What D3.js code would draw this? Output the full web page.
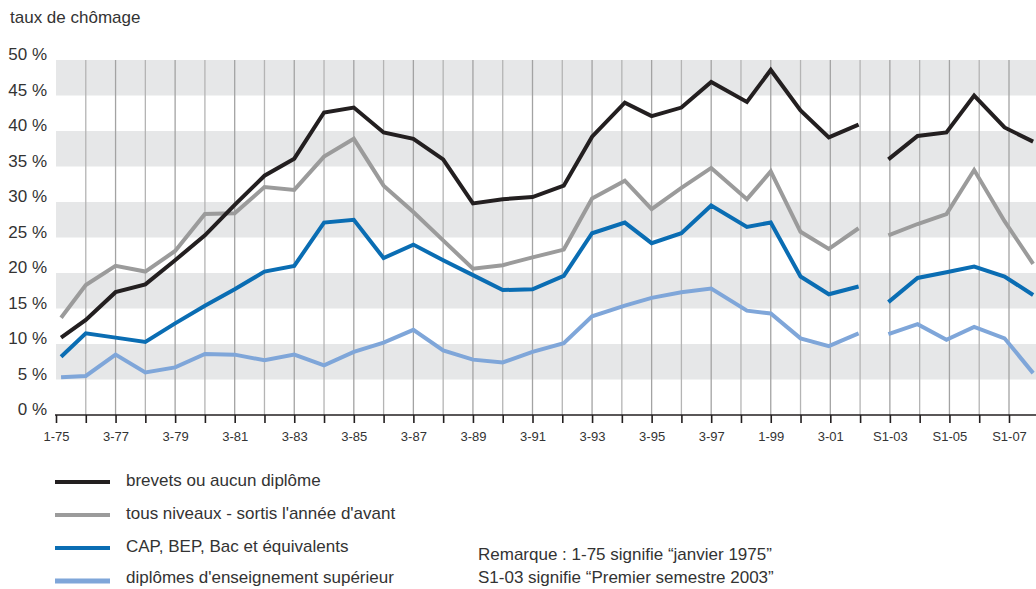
<!DOCTYPE html>
<html><head><meta charset="utf-8">
<script src="https://cdn.jsdelivr.net/npm/d3@7/dist/d3.min.js"></script>
<style>
body{margin:0;background:#fff}
text{font-family:'Liberation Sans Narrow','Arial Narrow','Liberation Sans',sans-serif;fill:#333}
</style>
</head><body>
<svg id="chart" width="1036" height="589"></svg>
<script>
// survey dates (decimal years); null-gap between 2002 and S1-03 handled by null values
const surveyYears = [1975.17,1976,1977,1978,1979,1980,1981,1982,1983,1984,1985,1986,1987,1988,1989,1990,1991,1992.05,1993,1994.1,1995,1996,1997,1998.2,1999,2000,2000.95,2001.95,2002.45,2002.95,2003.93,2004.9,2005.83,2006.85,2007.81];
const brevets   = [10.9,13.4,17.3,18.4,21.8,25.3,29.6,33.7,36.1,42.6,43.3,39.8,38.9,36.0,29.8,30.4,30.7,32.3,39.2,44.0,42.1,43.3,46.9,44.1,48.6,42.9,39.1,40.9,null,36.0,39.3,39.8,45.0,40.5,38.5];
const tousNiveaux = [13.7,18.3,21.0,20.2,23.1,28.3,28.4,32.1,31.7,36.4,38.9,32.3,28.6,24.6,20.6,21.1,22.2,23.3,30.5,33.0,29.0,32.0,34.8,30.4,34.3,25.8,23.4,26.3,null,25.3,26.9,28.3,34.5,27.3,21.3];
const capBep    = [8.2,11.5,10.9,10.3,12.9,15.4,17.7,20.2,21.0,27.1,27.5,22.1,24.0,21.8,19.7,17.6,17.7,19.6,25.6,27.1,24.2,25.6,29.5,26.5,27.1,19.5,17.0,18.1,null,15.9,19.3,20.1,20.9,19.5,16.9];
const superieur = [5.3,5.5,8.5,6.0,6.7,8.6,8.5,7.7,8.5,7.0,8.9,10.2,12.0,9.1,7.8,7.4,8.9,10.1,13.9,15.4,16.5,17.3,17.8,14.7,14.3,10.8,9.7,11.5,null,11.4,12.8,10.6,12.4,10.8,5.9];

const seriesNames = ["brevets ou aucun diplôme","tous niveaux - sortis l'année d'avant","CAP, BEP, Bac et équivalents","diplômes d'enseignement supérieur"];
const seriesColors = ["#231f20","#9b9b9b","#0a6db3","#7fa6d9"];
const yTicks = [0,5,10,15,20,25,30,35,40,45,50];
const xTickYears = d3.range(1975, 2008);
const xLabels = ["1-75","3-77","3-79","3-81","3-83","3-85","3-87","3-89","3-91","3-93","3-95","3-97","1-99","3-01","S1-03","S1-05","S1-07"];
const bandStarts = [5,15,25,35,45];

const svg = d3.select("#chart");
const x = d3.scaleLinear().domain([1975, 2007]).range([56, 1009]);
const y = d3.scaleLinear().domain([0, 50]).range([415, 60]);
const rightEdge = 1036;

// title
svg.append("text").attr("x", 10).attr("y", 23).style("font-size","17px").text("taux de chômage");

// grey bands
svg.append("g").selectAll("rect").data(bandStarts).join("rect")
  .attr("x", x(1975)).attr("width", rightEdge - x(1975))
  .attr("y", d => y(d + 5)).attr("height", d => y(d) - y(d + 5))
  .attr("fill", "#e6e7e8");

// vertical grid lines
svg.append("g").selectAll("line").data(xTickYears.slice(1)).join("line")
  .attr("x1", d => x(d)).attr("x2", d => x(d))
  .attr("y1", y(50)).attr("y2", y(0))
  .attr("stroke", (d,i) => i % 2 ? "#a3a3a3" : "#b4b4b4").attr("stroke-width", 1.3);

// y labels
svg.append("g").selectAll("text").data(yTicks).join("text")
  .attr("x", 47).attr("y", d => y(d)).attr("text-anchor","end")
  .style("font-size","17px").text(d => d + " %");

// x axis
const xAxis = d3.axisBottom(x).tickValues(xTickYears).tickSize(8).tickPadding(9)
  .tickFormat((d,i) => i % 2 === 0 ? xLabels[i/2] : "");
const gx = svg.append("g").attr("transform", `translate(0,${y(0)})`).call(xAxis);
gx.select(".domain").remove();
gx.selectAll(".tick line").attr("stroke","#231f20").attr("stroke-width",1.6);
gx.selectAll(".tick text").style("font-size","13px").attr("fill","#333").style("font-family","'Liberation Sans Narrow','Arial Narrow',sans-serif");
svg.append("line").attr("x1", x(1975) - 1).attr("x2", rightEdge).attr("y1", y(0)).attr("y2", y(0))
  .attr("stroke","#231f20").attr("stroke-width",1.6);

// lines
const allSeries = [superieur, capBep, tousNiveaux, brevets];
const colorsDrawOrder = [seriesColors[3], seriesColors[2], seriesColors[1], seriesColors[0]];
const line = d3.line().defined(d => d[1] !== null).x(d => x(d[0])).y(d => y(d[1]));
allSeries.forEach((vals, k) => {
  svg.append("path")
    .datum(vals.map((v, i) => [surveyYears[i], v]))
    .attr("d", line).attr("fill","none")
    .attr("stroke", colorsDrawOrder[k]).attr("stroke-width", 4)
    .attr("stroke-linejoin","miter").attr("stroke-linecap","butt");
});

// legend
const legendY = [482, 515, 548, 581];
const lg = svg.append("g").selectAll("g").data(seriesNames).join("g")
  .attr("transform", (d,i) => `translate(0,${legendY[i]})`);
lg.append("line").attr("x1", 55).attr("x2", 110).attr("y1", 0).attr("y2", 0)
  .attr("stroke", (d,i) => seriesColors[i]).attr("stroke-width", (d,i) => i === 3 ? 5 : 4);
lg.append("text").attr("x", 126).attr("y", (d,i) => i === 3 ? 2 : 4).style("font-size","17px").text(d => d);

// note
svg.append("text").attr("x", 478).attr("y", 560).style("font-size","17px").text("Remarque : 1-75 signifie “janvier 1975”");
svg.append("text").attr("x", 478).attr("y", 583).style("font-size","17px").text("S1-03 signifie “Premier semestre 2003”");
</script>
</body></html>
